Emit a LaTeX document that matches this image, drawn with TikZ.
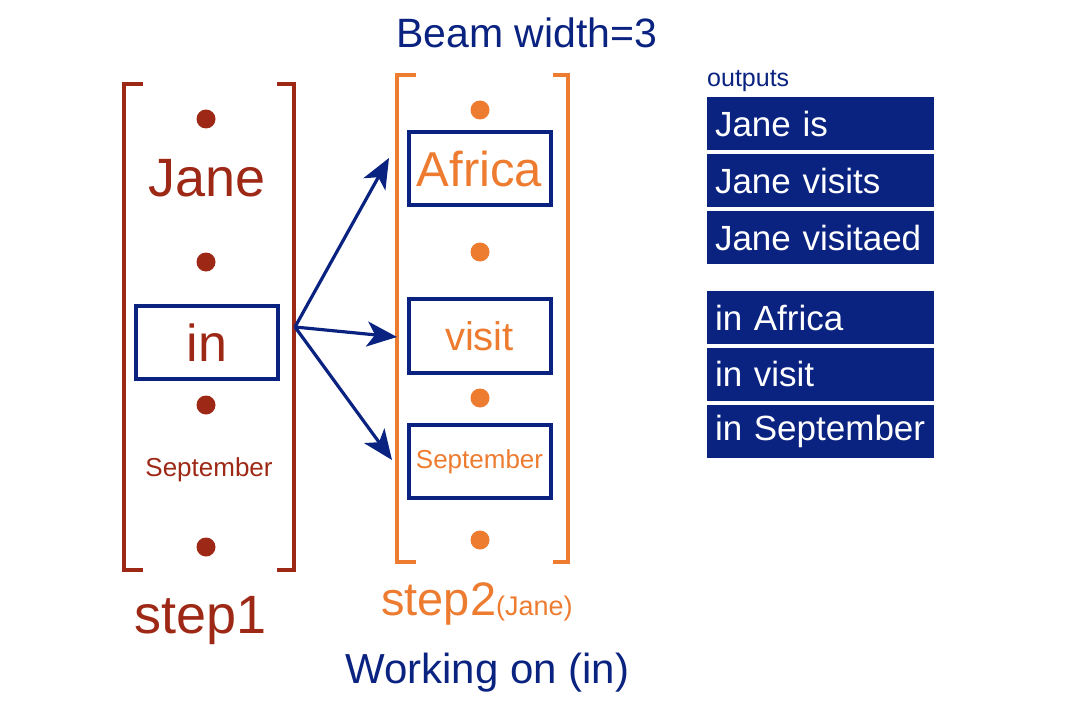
\documentclass[tikz,border=0pt]{standalone}
\usepackage{fontspec}
\setmainfont{Liberation Sans}
\usetikzlibrary{arrows.meta}
\definecolor{dred}{RGB}{158,40,22}
\definecolor{orng}{RGB}{237,123,48}
\definecolor{dblue}{RGB}{10,34,128}
\newcommand{\fs}[1]{\fontsize{#1}{#1}\selectfont}
\tikzset{
  brk1/.style={draw=dred, line width=4pt},
  brk2/.style={draw=orng, line width=4pt},
  dot1/.style={circle, fill=dred, minimum size=19pt, inner sep=0pt},
  dot2/.style={circle, fill=orng, minimum size=19pt, inner sep=0pt},
  wbox/.style={draw=dblue, line width=4pt, inner sep=0pt, minimum width=142pt, minimum height=73pt},
  outbox/.style={fill=dblue, text=white, text width=211pt, align=left, inner xsep=8pt, inner ysep=0pt, minimum height=53pt, font=\fs{35}},
  arr/.style={draw=dblue, line width=3.2pt, -{Stealth[length=30pt,width=25pt,inset=8pt]}},
  plain/.style={inner sep=0pt}
}
\begin{document}
\begin{tikzpicture}[x=1pt,y=-1pt]
\useasboundingbox (0,0) rectangle (1086,714);
% step 1 brackets
\draw[brk1] (143,84) -- (124,84) -- (124,570) -- (143,570);
\draw[brk1] (277,84) -- (294,84) -- (294,570) -- (277,570);
% step 2 brackets
\draw[brk2] (416,75) -- (397,75) -- (397,562) -- (416,562);
\draw[brk2] (553,75) -- (568,75) -- (568,562) -- (553,562);
% step 1 contents
\node[dot1] (d11) at (206,119) {};
\node[plain, text=dred, font=\fs{54}] (jane) at (207,178) {Jane};
\node[dot1] (d12) at (206,262) {};
\node[wbox, text=dred, font=\fs{52}] (inb) at (207,342.5) {in};
\node[dot1] (d13) at (206,405) {};
\node[plain, text=dred, font=\fs{26}] (sep1) at (209,470) {September};
\node[dot1] (d14) at (206,547) {};
% step 2 contents
\node[dot2] (d21) at (480,110) {};
\node[wbox, text=orng, font=\fs{49}] (afr) at (479.5,168.5) {Africa};
\node[dot2] (d22) at (480,252) {};
\node[wbox, minimum height=74pt, text=orng, font=\fs{40}] (vis) at (479.5,336) {visit};
\node[dot2] (d23) at (480,398) {};
\node[wbox, text=orng, font=\fs{26}] (sep2) at (479.5,461.5) {September};
\node[dot2] (d24) at (480,540) {};
% arrows
\coordinate (fork) at (295,327);
\coordinate (t1) at (389,158);
\coordinate (t2) at (397,337);
\coordinate (t3) at (392,460);
\draw[arr] (fork) -- (t1);
\draw[arr] (fork) -- (t2);
\draw[arr] (fork) -- (t3);
% titles
\node[plain, anchor=base west, text=dblue, font=\fs{41}] (beam) at (396,48) {Beam width=3};
\node[plain, anchor=base west, text=dblue, font=\fs{25}] (outl) at (707,87) {outputs};
% output boxes
\node[outbox] (o1) at (820.5,123.5) {Jane is};
\node[outbox] (o2) at (820.5,180.5) {Jane visits};
\node[outbox] (o3) at (820.5,237.5) {Jane visitaed};
\node[outbox] (o4) at (820.5,317.5) {in Africa};
\node[outbox] (o5) at (820.5,374) {in visit};
\node[outbox] (o6) at (820.5,431.5) {in September};
% bottom labels
\node[plain, anchor=base west, text=dred, font=\fs{54}] (s1) at (134,633) {step1};
\node[plain, anchor=base west, text=orng] (s2) at (381,615) {\fs{47}step2\fs{27}(Jane)};
\node[plain, anchor=base west, text=dblue, font=\fs{42}] (work) at (345,683) {Working on (in)};
\end{tikzpicture}
\end{document}
